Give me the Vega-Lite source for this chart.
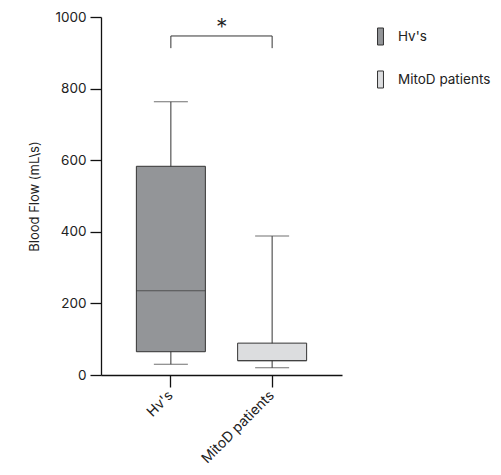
{
  "$schema": "https://vega.github.io/schema/vega-lite/v6.json",
  "autosize": "none",
  "width": 241,
  "height": 358,
  "padding": {"left": 101, "top": 17, "right": 159, "bottom": 100},
  "config": {
    "font": "Inter",
    "view": {"stroke": null},
    "axis": {"labelFont": "Inter", "titleFont": "Inter", "labelColor": "#222", "titleColor": "#222", "domainColor": "#111", "tickColor": "#111", "grid": false, "labelFontWeight": "normal", "titleFontWeight": "normal"}
  },
  "datasets": {
    "boxes": [
      {"group": "Hv's", "min": 30, "q1": 65, "median": 235, "q3": 583, "max": 763},
      {"group": "MitoD patients", "min": 20, "q1": 40, "median": 40, "q3": 89, "max": 388}
    ],
    "bracket": [
      {"from": "Hv's", "to": "MitoD patients", "y": 947, "yEnd": 913, "label": "*"}
    ]
  },
  "encoding": {
    "x": {
      "field": "group", "type": "nominal", "sort": ["Hv's", "MitoD patients"],
      "scale": {"domain": ["Hv's", "MitoD patients"], "paddingInner": 0, "paddingOuter": 0.19},
      "axis": {"title": null, "labelAngle": -45, "labelAlign": "right", "labelBaseline": "middle", "labelFontSize": 14, "tickSize": 12, "labelPadding": 6, "domainWidth": 1.3, "tickWidth": 1.3}
    }
  },
  "layer": [
    {
      "data": {"name": "boxes"},
      "mark": {"type": "rule", "color": "#333", "strokeWidth": 1},
      "encoding": {
        "y": {"field": "min", "type": "quantitative", "scale": {"domain": [0, 1000]},
              "axis": {"title": "Blood Flow (mL\\s)", "format": "d", "values": [0, 200, 400, 600, 800, 1000], "titleFontSize": 13, "labelFontSize": 13.5, "tickSize": 11, "labelPadding": 4, "titlePadding": 13, "domainWidth": 1.3, "tickWidth": 1.3}},
        "y2": {"field": "max"}
      }
    },
    {
      "data": {"name": "boxes"},
      "mark": {"type": "bar", "size": 69, "stroke": "#333", "strokeWidth": 1},
      "encoding": {
        "y": {"field": "q1", "type": "quantitative"},
        "y2": {"field": "q3"},
        "color": {"field": "group", "type": "nominal",
          "scale": {"domain": ["Hv's", "MitoD patients"], "range": ["#939598", "#dcdddf"]},
          "legend": {"title": null, "orient": "none", "legendX": 270, "legendY": 10, "symbolType": "M-0.35,-1H0.35V1H-0.35Z", "symbolSize": 290, "symbolStrokeColor": "#333", "symbolStrokeWidth": 1, "labelFontSize": 13.5, "labelColor": "#222", "rowPadding": 20, "labelOffset": 8, "labelFont": "Inter"}}
      }
    },
    {
      "data": {"name": "boxes"},
      "mark": {"type": "tick", "size": 69, "thickness": 1, "color": "#333"},
      "encoding": {"y": {"field": "median", "type": "quantitative"}}
    },
    {
      "data": {"name": "boxes"},
      "mark": {"type": "tick", "size": 34, "thickness": 1, "color": "#333"},
      "encoding": {"y": {"field": "min", "type": "quantitative"}}
    },
    {
      "data": {"name": "boxes"},
      "mark": {"type": "tick", "size": 34, "thickness": 1, "color": "#333"},
      "encoding": {"y": {"field": "max", "type": "quantitative"}}
    },
    {
      "data": {"name": "bracket"},
      "mark": {"type": "rule", "color": "#333", "strokeWidth": 1},
      "encoding": {
        "x": {"field": "from", "type": "nominal"},
        "x2": {"field": "to"},
        "y": {"field": "y", "type": "quantitative"}
      }
    },
    {
      "data": {"name": "bracket"},
      "mark": {"type": "rule", "color": "#333", "strokeWidth": 1},
      "encoding": {
        "x": {"field": "from", "type": "nominal"},
        "y": {"field": "y", "type": "quantitative"},
        "y2": {"field": "yEnd"}
      }
    },
    {
      "data": {"name": "bracket"},
      "mark": {"type": "rule", "color": "#333", "strokeWidth": 1},
      "encoding": {
        "x": {"field": "to", "type": "nominal"},
        "y": {"field": "y", "type": "quantitative"},
        "y2": {"field": "yEnd"}
      }
    },
    {
      "data": {"name": "bracket"},
      "mark": {"type": "text", "fontSize": 23, "fontWeight": 300, "dx": 51, "dy": -8, "baseline": "middle", "color": "#222"},
      "encoding": {
        "x": {"field": "from", "type": "nominal"},
        "y": {"field": "y", "type": "quantitative"},
        "text": {"field": "label"}
      }
    }
  ]
}
